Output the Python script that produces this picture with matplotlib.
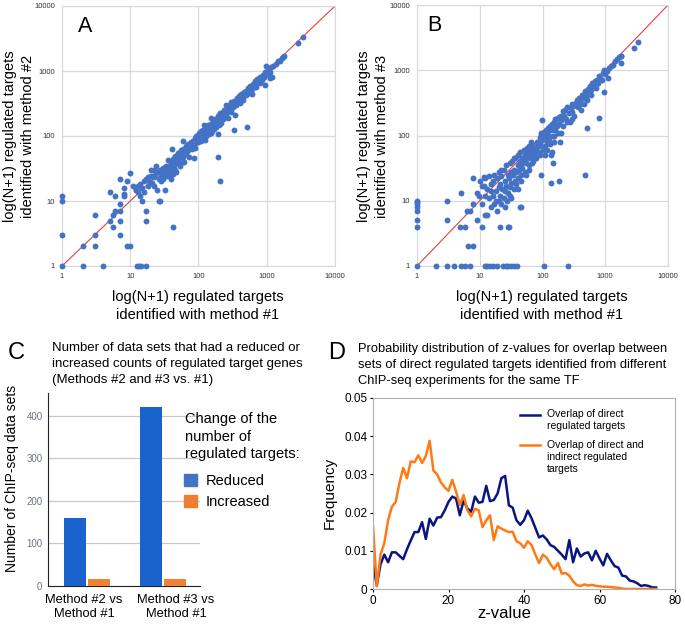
import numpy as np
import matplotlib
matplotlib.use('Agg')
import matplotlib.pyplot as plt
from matplotlib.patches import Patch

plt.rcParams['font.family'] = ['Liberation Sans', 'DejaVu Sans']

# ---- panel A: method #1 vs method #2 (N+1 counts) ----
a_pts = [(1, 1), (1, 3), (1, 10), (1, 12), (2, 1), (4, 1), (2, 2), (3, 2), (3, 3), (3, 6),
         (5, 5), (5.6, 6), (5.6, 4), (7, 5), (7, 3), (7, 7), (6, 7), (7, 9), (8, 12), (8, 13),
         (8, 16), (5, 14), (6, 12), (9, 20), (10, 27), (7, 22), (9, 2), (10, 2), (12.6, 1),
         (13.5, 1), (14.6, 1), (17, 1), (17, 5), (17, 7), (15, 10), (14, 12), (12, 15), (11, 17),
         (13, 17), (26, 10), (25, 15), (32, 15), (42, 4),
         (12, 15), (13, 14), (14, 18), (15, 16), (16, 20), (17, 22), (18, 17), (19, 20), (20, 24),
         (21, 19), (22, 23), (23, 25), (25, 28), (26, 22), (27, 30), (28, 24), (29, 26), (30, 32),
         (31, 25), (32, 28), (33, 35), (34, 24), (35, 30), (36, 27), (37, 33), (38, 25), (40, 38),
         (41, 30), (42, 45), (43, 26), (44, 35), (45, 40), (46, 50), (47, 28), (48, 42), (50, 55),
         (52, 48), (53, 35), (55, 60), (56, 45), (58, 52), (60, 62), (62, 40), (63, 55), (65, 70),
         (67, 58), (70, 75), (72, 48), (75, 68), (78, 80), (80, 62), (82, 85), (85, 72), (88, 92),
         (90, 78), (93, 100), (95, 85), (98, 104), (100, 95), (103, 110), (105, 88), (108, 100),
         (110, 118), (112, 95), (115, 105), (118, 125), (120, 110), (123, 88), (125, 130),
         (128, 115), (130, 100), (133, 140), (135, 120), (140, 150), (143, 108), (145, 130),
         (150, 155), (155, 140), (160, 120), (165, 170), (170, 150), (175, 185), (180, 140),
         (185, 165), (190, 200), (195, 175), (200, 210), (205, 180), (210, 225), (215, 160),
         (220, 195), (225, 230), (235, 210), (240, 250), (250, 220), (260, 270), (270, 190),
         (280, 250), (290, 300), (300, 260), (310, 320), (320, 280), (335, 350), (350, 300),
         (365, 380), (380, 340), (395, 410), (410, 360), (425, 440), (440, 390), (460, 480),
         (475, 420), (490, 500), (510, 450), (530, 540), (550, 480), (570, 580), (600, 520),
         (620, 640), (650, 560), (680, 700), (700, 620), (730, 760), (760, 680), (800, 820),
         (840, 720), (870, 880), (900, 800), (950, 980), (1000, 900), (1050, 1050), (1100, 980),
         (1150, 1150), (1250, 1200), (1350, 1300), (1450, 1420), (1550, 1450), (1650, 1600),
         (1750, 1650), (1800, 1700), (980, 1190), (2850, 2660), (3440, 3370), (940, 600),
         (196, 47), (207, 20), (521, 137), (336, 123), (344, 214), (196, 109), (85, 46),
         (59, 84), (41, 64), (27, 10), (1100, 780), (1200, 800),
         (20, 30), (22, 17), (24, 35), (28, 20), (30, 22), (33, 26), (36, 42), (39, 22),
         (45, 30), (50, 38), (55, 42), (60, 48), (66, 52), (70, 60), (80, 70), (90, 65),
         (100, 80), (110, 85), (130, 120), (150, 110), (170, 130), (200, 150), (230, 180),
         (250, 200), (300, 230), (400, 320), (450, 360), (500, 420), (600, 450), (700, 560),
         (800, 650), (16, 14), (18, 23), (60, 40), (120, 150), (150, 190), (250, 300),
         (300, 330), (22, 30)]

# ---- panel B: method #1 vs method #3 ----
b_pts = [(1, 1), (1, 4), (1, 5), (1, 7), (1, 8), (1, 9), (1, 9.5), (1, 10), (2, 1), (3, 1),
         (3.9, 1), (5, 1), (5.8, 1), (7, 1), (12.2, 1), (13.2, 1), (14.6, 1), (16.4, 1),
         (18.6, 1), (23.7, 1), (25.9, 1), (28.6, 1), (31.5, 1), (35, 1), (38.8, 1), (106, 1),
         (255, 1), (3, 10), (3, 5), (4.9, 3.9), (5.8, 3.9), (6.6, 2), (7.7, 2), (5, 13.3),
         (7.9, 22), (6.3, 7), (7, 7), (9.1, 5), (10.7, 3.9), (7.9, 9), (9.8, 12), (28.6, 3.9),
         (45, 8), (11.7, 23), (11.5, 16.8),
         (9, 13), (10, 20), (11, 17), (11, 9), (12, 6), (12, 22), (13, 15), (13, 6), (14, 11),
         (14, 24), (15, 8), (15, 18), (16, 12), (16, 20), (17, 9), (17, 25), (18, 14), (18, 10),
         (19, 22), (19, 7), (20, 16), (20, 28), (21, 12), (21, 18), (22, 9), (22, 24), (23, 15),
         (24, 30), (24, 11), (25, 20), (25, 14), (26, 35), (26, 17), (27, 10), (28, 25),
         (28, 13), (29, 22), (30, 38), (30, 16), (31, 28), (32, 19), (32, 11), (33, 40),
         (34, 25), (35, 30), (35, 15), (36, 20), (37, 45), (38, 28), (38, 18), (40, 35),
         (40, 50), (41, 22), (42, 30), (43, 40), (44, 55), (45, 25), (46, 36), (47, 45),
         (48, 32), (50, 42), (50, 60), (52, 28), (53, 50), (55, 38), (56, 65), (58, 45),
         (60, 55), (60, 70), (62, 35), (64, 50), (65, 60), (67, 45), (70, 70), (72, 55),
         (75, 48), (77, 65), (80, 60), (82, 80), (85, 70), (88, 55), (90, 95), (92, 75),
         (95, 110), (98, 85), (100, 100), (102, 65), (105, 115), (108, 90), (110, 70),
         (112, 120), (115, 95), (118, 60), (120, 110), (122, 130), (125, 85), (128, 100),
         (130, 140), (132, 75), (135, 120), (140, 55), (142, 150), (145, 100), (148, 130),
         (150, 80), (155, 160), (160, 120), (165, 180), (170, 140), (175, 110), (180, 190),
         (185, 150), (190, 80), (195, 200), (200, 170), (210, 240), (215, 140), (220, 200),
         (230, 250), (240, 180), (250, 270), (260, 220), (270, 160), (280, 260), (290, 300),
         (300, 230), (310, 280), (320, 200), (335, 300), (350, 350), (365, 270), (380, 380),
         (395, 330), (410, 250), (420, 420), (440, 380), (455, 300), (470, 480), (490, 420),
         (510, 350), (530, 520), (550, 460), (570, 580), (600, 500), (620, 640), (650, 560),
         (680, 680), (700, 600), (720, 540), (750, 700), (780, 640), (800, 820), (840, 760),
         (880, 700), (920, 900), (960, 1000), (1000, 870), (1050, 980), (1100, 750),
         (1150, 1100), (1250, 1150), (1350, 1200), (1450, 1400), (1550, 1500), (1650, 1600),
         (1750, 1650), (480, 25), (136, 19), (180, 20), (785, 188), (510, 132), (940, 470),
         (44, 8), (2840, 2170), (3320, 2700), (1800, 1280), (1750, 1650), (99, 173), (138, 50),
         (146, 38), (96, 25), (68, 38), (21, 4), (29, 4),
         (20, 10), (25, 8), (30, 12), (40, 15), (45, 20), (55, 25), (60, 30), (70, 40),
         (80, 45), (90, 50), (100, 60), (110, 50), (120, 80), (150, 100), (200, 110),
         (250, 160), (300, 180), (400, 300), (500, 380), (600, 420), (15, 14), (12, 12),
         (35, 45), (65, 80), (160, 180), (22, 30)]

log_ticks = [1, 10, 100, 1000, 10000]

# ---- panel C: counts of data sets ----
c_groups = ['Method #2 vs\nMethod #1', 'Method #3 vs\nMethod #1']
c_reduced = [160, 421]
c_increased = [17, 17]

# ---- panel D: z-value distributions (z = 0..75) ----
d_z = np.arange(0, 76)
d_direct = [0.0065, 0.0010, 0.0065, 0.0090, 0.0070, 0.0096, 0.0096, 0.0087, 0.0078, 0.0104,
            0.0127, 0.0149, 0.0149, 0.0175, 0.0131, 0.0184, 0.0166, 0.0187, 0.0188, 0.0206,
            0.0228, 0.0242, 0.0237, 0.0193, 0.0231, 0.0211, 0.0202, 0.0242, 0.0226, 0.0228,
            0.0270, 0.0230, 0.0233, 0.0250, 0.0290, 0.0296, 0.0219, 0.0213, 0.0180, 0.0168,
            0.0180, 0.0205, 0.0185, 0.0160, 0.0135, 0.0140, 0.0130, 0.0115, 0.0110, 0.0100,
            0.0090, 0.0078, 0.0128, 0.0070, 0.0106, 0.0085, 0.0093, 0.0096, 0.0075, 0.0100,
            0.0080, 0.0062, 0.0092, 0.0075, 0.0060, 0.0056, 0.0035, 0.0033, 0.0022, 0.0020,
            0.0015, 0.0008, 0.0010, 0.0008, 0.0004, 0.0004]
d_indirect = [0.0165, 0.0007, 0.0090, 0.0120, 0.0180, 0.0215, 0.0228, 0.0277, 0.0317, 0.0290,
              0.0334, 0.0332, 0.0350, 0.0330, 0.0348, 0.0388, 0.0310, 0.0300, 0.0279, 0.0266,
              0.0257, 0.0286, 0.0255, 0.0220, 0.0246, 0.0206, 0.0190, 0.0210, 0.0206, 0.0162,
              0.0180, 0.0193, 0.0128, 0.0164, 0.0158, 0.0153, 0.0149, 0.0150, 0.0125, 0.0120,
              0.0108, 0.0125, 0.0115, 0.0090, 0.0068, 0.0090, 0.0082, 0.0065, 0.0052, 0.0068,
              0.0040, 0.0042, 0.0035, 0.0020, 0.0010, 0.0008, 0.0012, 0.0009, 0.0011, 0.0008,
              0.0007, 0.0006, 0.0006, 0.0005, 0.0004, 0.0003, 0.0001, 0.0, 0.0, 0.0,
              0.0, 0.0, 0.0, 0.0, 0.0, 0.0]
d_labels = ['Overlap of direct\nregulated targets',
            'Overlap of direct and\nindirect regulated\ntargets']
d_colors = ['#0a1580', '#ff7a14']

W, H = 685, 625
fig = plt.figure(figsize=(W / 100, H / 100), dpi=100)


def box(l, t, r, b):
    # pixel box -> figure fraction rect
    return [l / W, 1 - b / H, (r - l) / W, (b - t) / H]


def scatter_panel(rect, pts, letter, lx):
    ax = fig.add_axes(rect)
    xs = [p[0] for p in pts]
    ys = [p[1] for p in pts]
    ax.set_xscale('log')
    ax.set_yscale('log')
    ax.set_xlim(1, 10000)
    ax.set_ylim(1, 10000)
    ax.grid(True, which='major', color='#d9d9d9', lw=0.9)
    ax.set_axisbelow(True)
    for s in ax.spines.values():
        s.set_color('#d9d9d9')
    ax.xaxis.set_minor_locator(matplotlib.ticker.NullLocator())
    ax.yaxis.set_minor_locator(matplotlib.ticker.NullLocator())
    ax.set_xticks(log_ticks)
    ax.set_xticklabels([str(t) for t in log_ticks])
    ax.set_yticks(log_ticks)
    ax.set_yticklabels([str(t) for t in log_ticks])
    ax.tick_params(length=0, labelsize=5.5, pad=5, colors='#333333')
    ax.plot([1, 10000], [1, 10000], color='#e04040', lw=0.8, zorder=2)
    ax.scatter(xs, ys, s=18, color='#4472c4', zorder=3, clip_on=False, linewidths=0)
    ax.text(lx, 0.96, letter, transform=ax.transAxes, fontsize=15.5, va='top')
    return ax


axA = scatter_panel(box(62, 6, 335, 266), a_pts, 'A', 0.058)
axB = scatter_panel(box(417, 5, 668, 266), b_pts, 'B', 0.04)

lab = dict(fontsize=10.5, ha='center', va='center', linespacing=1.3)
fig.text(198 / W, 1 - 306 / H, 'log(N+1) regulated targets\nidentified with method #1', **lab)
fig.text(542 / W, 1 - 306 / H, 'log(N+1) regulated targets\nidentified with method #1', **lab)
fig.text(19 / W, 1 - 136 / H, 'log(N+1) regulated targets\nidentified with method #2',
         rotation=90, **lab)
fig.text(373 / W, 1 - 136 / H, 'log(N+1) regulated targets\nidentified with method #3',
         rotation=90, **lab)

# ---- panel C ----
axC = fig.add_axes(box(48, 393, 200, 586))
xg = np.arange(len(c_groups))
bw = 0.29
axC.bar(xg - 0.16, c_reduced, bw, color='#1a62cc', zorder=3)
axC.bar(xg + 0.16, c_increased, bw, color='#f08234', zorder=3)
axC.set_xlim(-0.513, 1.487)
axC.set_ylim(0, 454)
axC.set_yticks([0, 100, 200, 300, 400])
axC.yaxis.grid(True, color='#c8c8c8', lw=0.9)
axC.set_axisbelow(True)
axC.spines['top'].set_visible(False)
axC.spines['right'].set_visible(False)
axC.spines['left'].set_color('#222222')
axC.spines['bottom'].set_color('#222222')
axC.tick_params(axis='y', length=0, labelsize=7, labelcolor='#6a7585', pad=4)
axC.set_xticks([-0.04, 1.17])
axC.set_xticklabels(c_groups, fontsize=9.3, linespacing=1.2)
axC.tick_params(axis='x', length=0, pad=6)
fig.text(12 / W, 1 - 478 / H, 'Number of ChIP-seq data sets', rotation=90, fontsize=10,
         ha='center', va='center')
fig.text(185 / W, 1 - 412 / H, 'Change of the\nnumber of\nregulated targets:',
         fontsize=10.5, va='top', ha='left', linespacing=1.33)
handles = [Patch(color='#4472c4', label='Reduced'), Patch(color='#ed7d31', label='Increased')]
axC.legend(handles=handles, fontsize=10.5, frameon=False,
           loc='upper left', bbox_to_anchor=(184 / W, 1 - 474 / H),
           bbox_transform=fig.transFigure, handlelength=0.9, handleheight=0.9,
           handletextpad=0.6, borderpad=0, borderaxespad=0, labelspacing=0.45)
fig.text(52 / W, 1 - 342 / H, 'Number of data sets that had a reduced or\n'
         'increased counts of regulated target genes\n(Methods #2 and #3 vs. #1)',
         fontsize=9.5, va='top', ha='left', linespacing=1.45)
fig.text(8 / W, 1 - 342 / H, 'C', fontsize=17, va='top')

# ---- panel D ----
axD = fig.add_axes(box(373, 398, 675, 589))
axD.plot(d_z, d_direct, color=d_colors[0], lw=1.8)
axD.plot(d_z, d_indirect, color=d_colors[1], lw=1.8)
axD.set_xlim(0, 80)
axD.set_ylim(0, 0.05)
axD.set_xticks([0, 20, 40, 60, 80])
axD.set_yticks([0, 0.01, 0.02, 0.03, 0.04, 0.05])
axD.set_yticklabels(['0', '0.01', '0.02', '0.03', '0.04', '0.05'])
for s in axD.spines.values():
    s.set_color('#b0b0b0')
axD.tick_params(labelsize=8.5, length=2, width=0.8, pad=2)
fig.text(504 / W, 1 - 614 / H, 'z-value', fontsize=12, ha='center', va='center')
fig.text(330 / W, 1 - 493 / H, 'Frequency', rotation=90, fontsize=11, ha='center',
         va='center')
# legend: handle aligned with first text line of each entry
for hy, ty, lbl, col in zip([415, 445], [409, 440], d_labels, d_colors):
    axD.plot([(520 - 373) / 302, (540 - 373) / 302], [1 - (hy - 398) / 191] * 2,
             color=col, lw=1.8, transform=axD.transAxes)
    axD.text((547 - 373) / 302, 1 - (ty - 398) / 191, lbl, transform=axD.transAxes,
             fontsize=7.5, va='top', ha='left', linespacing=1.25)
fig.text(358 / W, 1 - 343 / H, 'Probability distribution of z-values for overlap between\n'
         'sets of direct regulated targets identified from different\n'
         'ChIP-seq experiments for the same TF', fontsize=9.3, va='top', ha='left',
         linespacing=1.45)
fig.text(328 / W, 1 - 342 / H, 'D', fontsize=17, va='top')

fig.savefig('out.png', dpi=100)
